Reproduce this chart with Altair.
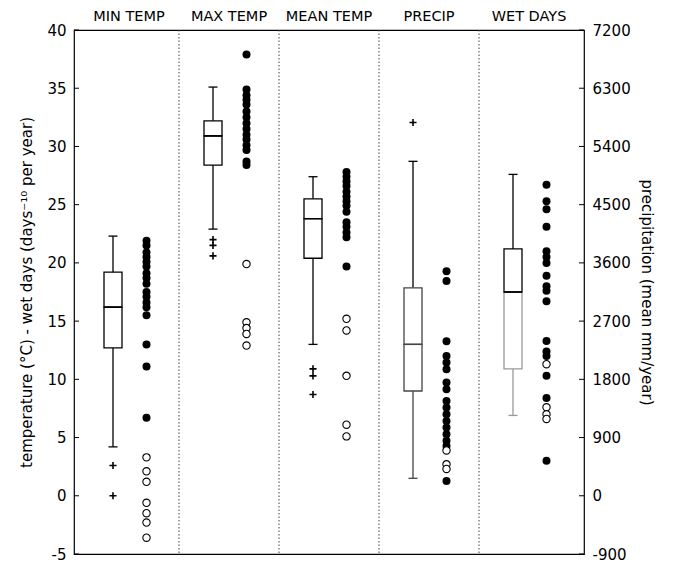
import altair as alt
import pandas as pd

panels = ["MIN TEMP", "MAX TEMP", "MEAN TEMP", "PRECIP", "WET DAYS"]

# ---- box statistics: temperature (°C) and wet days panels (left axis)
left_panels = ["MIN TEMP", "MAX TEMP", "MEAN TEMP", "WET DAYS"]
left_whisker_low = [4.2, 22.9, 13.0, 6.9]
left_q1 = [12.7, 28.4, 20.4, 10.9]
left_median = [16.2, 30.9, 23.8, 17.5]
left_q3 = [19.2, 32.2, 25.5, 21.2]
left_whisker_high = [22.3, 35.1, 27.4, 27.6]

# ---- box statistics: precipitation (mm/year, right axis)
precip_whisker_low = [270]
precip_q1 = [1620]
precip_median = [2340]
precip_q3 = [3215]
precip_whisker_high = [5170]

# ---- outliers (+)
min_plus = [2.6, 0.0]
max_plus = [22.0, 21.5, 20.6]
mean_plus = [10.9, 10.3, 8.7]
precip_plus = [5770]

# ---- filled dots
min_filled = [21.9, 21.5, 20.9, 20.5, 20.1, 19.7, 19.1, 18.7, 18.2, 17.5, 17.1, 16.6, 16.2, 15.5, 13.0, 11.1, 6.7]
max_filled = [37.9, 34.9, 34.4, 34.0, 33.6, 33.0, 32.5, 32.0, 31.5, 31.0, 30.6, 30.1, 29.7, 28.7, 28.4]
mean_filled = [27.8, 27.4, 27.0, 26.6, 26.1, 25.7, 25.3, 24.9, 24.4, 23.5, 23.1, 22.6, 22.2, 19.7]
precip_filled = [3470, 3320, 2390, 2160, 2060, 1955, 1750, 1645, 1465, 1365, 1260, 1155, 1055, 950, 850, 770, 230]
wet_filled = [26.7, 25.3, 24.6, 23.1, 21.0, 20.5, 20.0, 18.9, 18.0, 17.6, 16.7, 13.3, 12.4, 12.0, 10.3, 8.4, 3.0]

# ---- open dots
min_open = [3.3, 2.1, 1.2, -0.6, -1.5, -2.3, -3.6]
max_open = [19.9, 14.9, 14.4, 13.9, 12.9]
mean_open = [15.2, 14.2, 10.3, 6.1, 5.1]
precip_open = [700, 486, 414]
wet_open = [11.3, 7.6, 7.0, 6.6]

left_ticks = [-5, 0, 5, 10, 15, 20, 25, 30, 35, 40]
right_ticks = [-900, 0, 900, 1800, 2700, 3600, 4500, 5400, 6300, 7200]

left_title = "temperature (°C)  -  wet days  (days\u207b\u00b9\u2070 per year)"
right_title = "precipitation (mean mm/year)"

W, H = 510, 524
BOX_POS, DOT_POS = 0.34, 0.675
FONT = "DejaVu Sans"

# ---------------- tables built from the arrays ----------------
def box_frame(names, low, q1, med, q3, high):
    df = pd.DataFrame({"panel": names, "low": low, "q1": q1, "med": med, "q3": q3, "high": high})
    df["xc"] = [panels.index(p) + BOX_POS for p in names]
    return df

box_left = box_frame(left_panels, left_whisker_low, left_q1, left_median, left_q3, left_whisker_high)
box_right = box_frame(["PRECIP"], precip_whisker_low, precip_q1, precip_median, precip_q3, precip_whisker_high)

def pts(name, values, kind):
    off = BOX_POS if kind == "plus" else DOT_POS
    return pd.DataFrame({"panel": name, "v": values, "kind": kind, "xp": panels.index(name) + off})

pts_left = pd.concat([
    pts("MIN TEMP", min_plus, "plus"), pts("MAX TEMP", max_plus, "plus"), pts("MEAN TEMP", mean_plus, "plus"),
    pts("MIN TEMP", min_filled, "filled"), pts("MAX TEMP", max_filled, "filled"),
    pts("MEAN TEMP", mean_filled, "filled"), pts("WET DAYS", wet_filled, "filled"),
    pts("MIN TEMP", min_open, "open"), pts("MAX TEMP", max_open, "open"),
    pts("MEAN TEMP", mean_open, "open"), pts("WET DAYS", wet_open, "open"),
], ignore_index=True)
pts_right = pd.concat([
    pts("PRECIP", precip_plus, "plus"), pts("PRECIP", precip_filled, "filled"), pts("PRECIP", precip_open, "open"),
], ignore_index=True)

labels_df = pd.DataFrame({"panel": panels, "xm": [i + 0.5 for i in range(len(panels))]})
div_df = pd.DataFrame({"xd": list(range(1, len(panels)))})
lt_df = pd.DataFrame({"v": left_ticks})
rt_df = pd.DataFrame({"v": right_ticks})

# ---------------- encodings ----------------
xscale = alt.Scale(domain=[0, 5], nice=False, zero=False)

def X(f):
    return alt.X(f, type="quantitative", scale=xscale, axis=None)

def X2(f):
    return alt.X2(f)

left_axis = alt.Axis(values=left_ticks, ticks=False, domain=False, grid=False, labelFont=FONT,
                     labelFontSize=15, labelColor="black", labelPadding=8, labelExpr="'' + datum.value",
                     title=left_title, titleFont=FONT, titleFontSize=15, titleFontWeight="normal",
                     titleColor="black", titlePadding=12, orient="left")
right_axis = alt.Axis(values=right_ticks, ticks=False, domain=False, grid=False, labelFont=FONT,
                      labelFontSize=15, labelColor="black", labelPadding=8, labelExpr="'' + datum.value",
                      title=right_title, titleFont=FONT, titleFontSize=15, titleFontWeight="normal",
                      titleColor="black", titlePadding=8, orient="right")

def LY(f):
    return alt.Y(f, type="quantitative", scale=alt.Scale(domain=[-5, 40], nice=False, zero=False), axis=left_axis)

def RY(f):
    return alt.Y(f, type="quantitative", scale=alt.Scale(domain=[-900, 7200], nice=False, zero=False), axis=right_axis)

def box_layers(df, Y, lower_color):
    base = alt.Chart(df)
    lower_stroke = alt.condition(alt.datum.panel == "WET DAYS", alt.value("#9a9a9a"), alt.value(lower_color))
    return [
        base.mark_rule(strokeWidth=1.3, color="black").encode(x=X("xc"), y=Y("q3"), y2=alt.Y2("high")),
        base.mark_rule(strokeWidth=1.3).encode(x=X("xc"), y=Y("low"), y2=alt.Y2("q1"), color=lower_stroke),
        base.mark_rule(strokeWidth=1.3, color="black", xOffset=-4.5, x2Offset=4.5).encode(
            x=X("xc"), x2=X2("xc"), y=Y("high")),
        base.mark_rule(strokeWidth=1.3, xOffset=-4.5, x2Offset=4.5).encode(
            x=X("xc"), x2=X2("xc"), y=Y("low"), color=lower_stroke),
        base.mark_bar(size=18, fill="white", strokeWidth=1.3).encode(
            x=X("xc"), y=Y("med"), y2=alt.Y2("q1"), stroke=lower_stroke),
        base.mark_bar(size=18, fill="white", fillOpacity=0, stroke=lower_color, strokeWidth=1.3).encode(
            x=X("xc"), y=Y("q3"), y2=alt.Y2("med")),
        base.mark_rule(strokeWidth=1.3, color=lower_color, xOffset=-9, x2Offset=9).encode(
            x=X("xc"), x2=X2("xc"), y=Y("med")),
    ]

def point_layers(df, Y):
    base = alt.Chart(df)
    return [
        base.transform_filter(alt.datum.kind == "plus").mark_point(
            shape="M-1,0L1,0M0,-1L0,1", size=50, filled=False, stroke="black", strokeWidth=1.6, opacity=1
        ).encode(x=X("xp"), y=Y("v")),
        base.transform_filter(alt.datum.kind == "filled").mark_circle(
            size=64, color="black", opacity=1
        ).encode(x=X("xp"), y=Y("v")),
        base.transform_filter(alt.datum.kind == "open").mark_point(
            shape="circle", size=54, filled=True, fill="white", stroke="black", strokeWidth=1.1, opacity=1
        ).encode(x=X("xp"), y=Y("v")),
    ]

dividers = alt.Chart(div_df).mark_rule(color="#444444", strokeDash=[1.5, 2], strokeWidth=1).encode(x=X("xd"))
titles = alt.Chart(labels_df).mark_text(font=FONT, fontSize=14.5, color="black", baseline="middle").encode(
    x=X("xm"), y=alt.value(-13), text="panel:N")
lticks = alt.Chart(lt_df).mark_rule(color="black", strokeWidth=1).encode(
    x=alt.value(0), x2=alt.value(5), y=LY("v"))
rticks = alt.Chart(rt_df).mark_rule(color="black", strokeWidth=1).encode(
    x=alt.value(W), x2=alt.value(W - 5), y=RY("v"))

left_group = alt.layer(dividers, titles, lticks,
                       *box_layers(box_left, LY, "black"), *point_layers(pts_left, LY))
right_group = alt.layer(rticks, *box_layers(box_right, RY, "#444444"), *point_layers(pts_right, RY))

chart = alt.layer(left_group, right_group).resolve_scale(y="independent").properties(
    width=W, height=H,
    autosize=alt.AutoSizeParams(type="none"),
    padding={"left": 66, "top": 22, "right": 82, "bottom": 10},
    background="white",
).configure_view(stroke="black", strokeWidth=1.2)

chart.save("out.html", embed_options={"renderer": "svg", "actions": False})
